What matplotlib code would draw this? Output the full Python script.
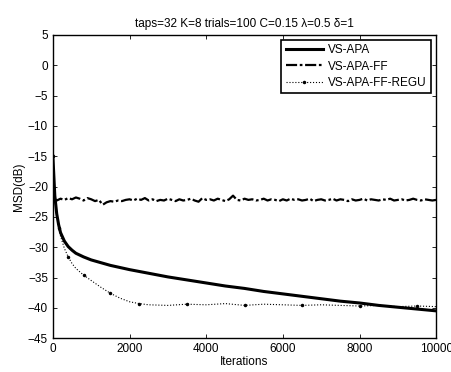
import numpy as np
import matplotlib
matplotlib.use("Agg")
import matplotlib.pyplot as plt

plt.rcParams['font.family'] = ['Liberation Sans', 'DejaVu Sans']

# VS-APA (smooth curve)
it_apa = [0, 50, 100, 150, 200, 300, 400, 500, 600, 800, 1000, 1500, 2000, 2500, 3000,
          3500, 4000, 4500, 5000, 5500, 6000, 6500, 7000, 7500, 8000, 8500, 9000, 9500, 10000]
msd_apa = [-15.0, -21.5, -24.5, -26.3, -27.6, -29.0, -29.9, -30.5, -31.0, -31.6, -32.1, -33.0, -33.7,
           -34.3, -34.9, -35.4, -35.9, -36.4, -36.8, -37.3, -37.7, -38.1, -38.5, -38.9, -39.2,
           -39.6, -39.9, -40.2, -40.5]

# VS-APA-FF (noisy, every 100 iterations)
it_ff = list(range(0, 10001, 100))
msd_ff = [-21.8, -22.3, -22.0, -22.2, -21.9, -22.1, -21.8, -22.0, -22.3, -21.9,
          -22.1, -22.4, -22.2, -23.0, -22.6, -22.4, -22.5, -22.3, -22.4, -22.2,
          -22.1, -22.3, -22.0, -22.2, -21.9, -22.3, -22.1, -22.4, -22.2, -22.3,
          -22.0, -22.2, -22.4, -22.1, -22.3, -22.2, -22.0, -22.3, -22.5, -21.9,
          -22.2, -22.1, -22.3, -22.0, -22.2, -22.4, -22.1, -21.5, -22.2, -22.3,
          -22.0, -22.2, -22.1, -22.3, -22.2, -22.0, -22.3, -22.1, -22.2, -22.4,
          -22.1, -22.3, -22.0, -22.2, -22.1, -22.3, -22.2, -22.0, -22.4, -22.2,
          -22.1, -22.3, -22.2, -22.0, -22.3, -22.1, -22.2, -22.4, -22.1, -22.3,
          -22.2, -22.0, -22.3, -22.1, -22.2, -22.3, -22.1, -22.2, -22.0, -22.3,
          -22.2, -22.1, -22.3, -22.2, -22.0, -22.2, -22.3, -22.1, -22.2, -22.3, -22.2]

# VS-APA-FF-REGU
it_regu = [0, 50, 100, 150, 200, 300, 400, 500, 600, 800, 1000, 1250, 1500, 1750, 2000,
           2250, 2500, 3000, 3500, 4000, 4500, 5000, 5500, 6000, 6500, 7000, 7500, 8000,
           8500, 9000, 9500, 10000]
msd_regu = [-15.0, -21.8, -24.8, -26.8, -28.2, -30.2, -31.6, -32.7, -33.5, -34.6, -35.5, -36.6,
            -37.6, -38.4, -39.0, -39.3, -39.5, -39.6, -39.4, -39.5, -39.3, -39.6, -39.4, -39.5,
            -39.6, -39.5, -39.6, -39.7, -39.6, -39.8, -39.7, -39.8]

title = "taps=32 K=8 trials=100 C=0.15 λ=0.5 δ=1"

fig = plt.figure(figsize=(4.52, 3.72), dpi=100)
ax = fig.add_axes([0.117, 0.091, 0.848, 0.815])

ax.plot(it_apa, msd_apa, 'k-', lw=2.2, label='VS-APA')
ax.plot(it_ff, msd_ff, color='k', ls=(0, (5, 1.2, 1.2, 1.2)), lw=1.6, label='VS-APA-FF')
ax.plot(it_regu, msd_regu, 'k:', lw=0.8, marker='.', ms=3, markevery=3, label='VS-APA-FF-REGU')

ax.set_xlim(0, 10000)
ax.set_ylim(-45, 5)
ax.set_xticks(range(0, 10001, 2000))
ax.set_yticks(range(-45, 6, 5))
ax.tick_params(direction='in', labelsize=8.5, top=True, right=True, length=3, width=0.6)
for s in ax.spines.values():
    s.set_linewidth(1.0)
ax.set_xlabel('Iterations', fontsize=8.5, labelpad=1)
ax.set_ylabel('MSD(dB)', fontsize=8.5, labelpad=2)
ax.set_title(title, fontsize=8.5, pad=6)

leg = ax.legend(loc='upper right', fontsize=8.5, fancybox=False, framealpha=1,
                edgecolor='k', handlelength=3.2, handletextpad=0.4, borderpad=0.4,
                labelspacing=0.35, borderaxespad=0.4)
leg.get_frame().set_linewidth(1.2)

fig.savefig('out.png', dpi=100)
